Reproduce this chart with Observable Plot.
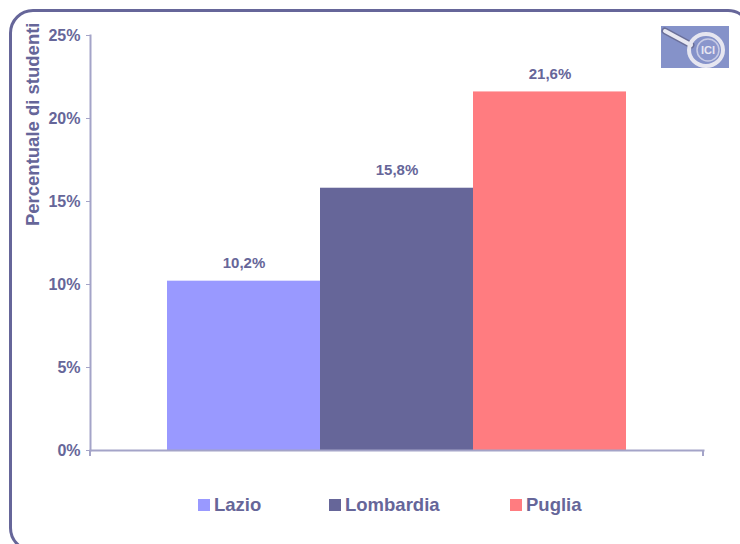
<!DOCTYPE html>
<html>
<head>
<meta charset="utf-8">
<script src="https://cdn.jsdelivr.net/npm/d3@7"></script>
<script src="https://cdn.jsdelivr.net/npm/@observablehq/plot@0.6"></script>
<style>
  html, body { margin: 0; padding: 0; background: #fff; overflow: hidden; }
  #wrap { position: relative; width: 740px; height: 544px; overflow: hidden; font-family: "Liberation Sans", Arial, sans-serif; }
  #frame { position: absolute; left: 9px; top: 9px; width: 743px; height: 543px; border: 3px solid #666699; border-radius: 24px; box-sizing: border-box; }
  #chart { position: absolute; left: 0; top: 0; }
  #logo { position: absolute; left: 661px; top: 26px; }
  .legend-item { position: absolute; top: 494px; display: flex; align-items: center; font-weight: bold; font-size: 18.5px; color: #666699; white-space: nowrap; }
  .legend-item .sw { width: 12px; height: 12px; margin-right: 4px; }
</style>
</head>
<body>
<div id="wrap">
  <div id="chart"></div>
  <div id="frame"></div>
  <svg id="logo" width="68" height="42" viewBox="0 0 68 42">
    <rect x="0" y="0" width="68" height="42" fill="#8592c9"/>
    <line x1="4" y1="5" x2="30" y2="19" stroke="#6a6f99" stroke-width="7" stroke-linecap="round"/>
    <line x1="4" y1="5" x2="30" y2="19" stroke="#e8e8f2" stroke-width="4" stroke-linecap="round"/>
    <ellipse cx="45" cy="24" rx="17" ry="16" fill="none" stroke="#e6e6f0" stroke-width="4"/>
    <ellipse cx="47" cy="24" rx="11" ry="11" fill="#8a96cc" stroke="#c8cce6" stroke-width="1.5"/>
    <text x="47" y="28" text-anchor="middle" font-size="11" font-weight="bold" fill="#e6e6f2" font-family="Liberation Sans, Arial">ICI</text>
  </svg>
</div>
<script>
// ---- data ----
const regions = ["Lazio", "Lombardia", "Puglia"];
const values = [10.2, 15.8, 21.6];
const colors = ["#9999FF", "#666699", "#FF7C80"];
const yTicks = [0, 5, 10, 15, 20, 25];
const yLabel = "Percentuale di studenti";

const data = regions.map((r, i) => ({ region: r, value: values[i] }));
const textColor = "#666699";
const axisColor = "#a4a4c8";
const fmt = v => v.toFixed(1).replace(".", ",") + "%";

const W = 740, H = 544, mL = 90, mR = 37, mT = 35, mB = 94;

const chart = Plot.plot({
  width: W,
  height: H,
  marginLeft: mL,
  marginRight: mR,
  marginTop: mT,
  marginBottom: mB,
  style: { fontFamily: "Liberation Sans, Arial, sans-serif", background: "transparent" },
  x: { type: "band", domain: regions, range: [167, 626], padding: 0, axis: null },
  y: { domain: [0, 25], ticks: yTicks, axis: null },
  color: { domain: regions, range: colors },
  marks: [
    Plot.barY(data, { x: "region", y: "value", fill: "region", inset: 0 }),
    Plot.frame({ anchor: "left", stroke: axisColor, strokeWidth: 2 }),
    Plot.frame({ anchor: "bottom", stroke: axisColor, strokeWidth: 2 }),
    Plot.axisY({
      ticks: yTicks,
      tickFormat: d => d + "%",
      tickSize: 4,
      tickPadding: 6,
      stroke: axisColor,
      fill: textColor,
      fontSize: 16,
      fontWeight: "bold",
      label: null
    }),
    Plot.text(data, {
      x: "region", y: "value", text: d => fmt(d.value),
      dy: -18, fill: textColor, fontSize: 15, fontWeight: "bold"
    }),
    Plot.text([yLabel], {
      frameAnchor: "top-left", rotate: -90, textAnchor: "end",
      dx: -65, dy: -13, fill: textColor, fontSize: 18.5, fontWeight: "bold"
    })
  ]
});
document.getElementById("chart").appendChild(chart);

// small end ticks on the category axis
const svg = d3.select(chart);
[mL, W - mR].forEach(px => {
  svg.append("line")
    .attr("x1", px).attr("x2", px)
    .attr("y1", H - mB).attr("y2", H - mB + 6)
    .attr("stroke", axisColor).attr("stroke-width", 2);
});

// legend
const legendX = [198, 329, 510];
const wrap = document.getElementById("wrap");
regions.forEach((r, i) => {
  const item = document.createElement("div");
  item.className = "legend-item";
  item.style.left = legendX[i] + "px";
  const sw = document.createElement("span");
  sw.className = "sw";
  sw.style.background = colors[i];
  const t = document.createElement("span");
  t.textContent = r;
  item.appendChild(sw);
  item.appendChild(t);
  wrap.appendChild(item);
});
</script>
</body>
</html>
